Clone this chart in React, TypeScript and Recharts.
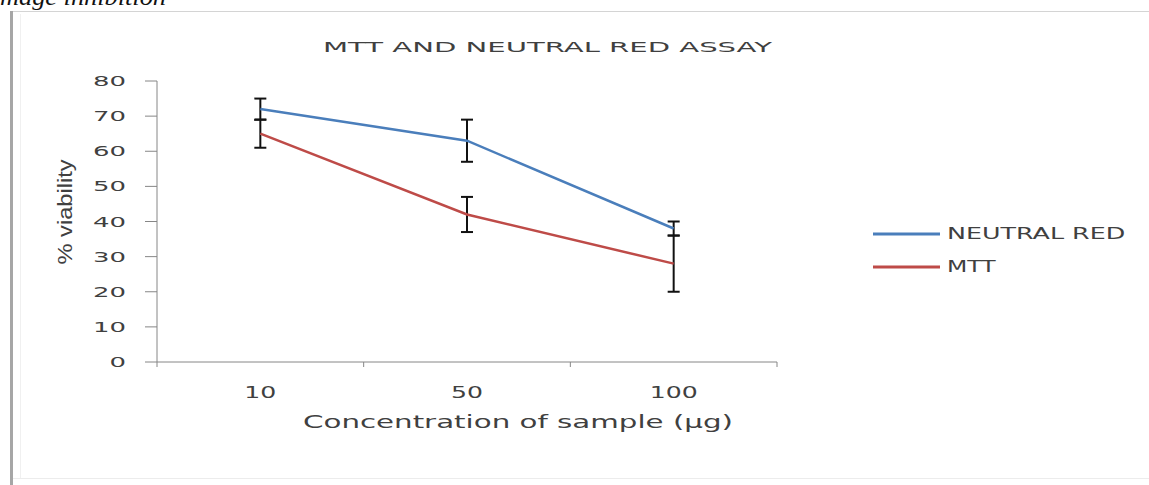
import { LineChart, Line, XAxis, YAxis, ErrorBar, Legend } from 'recharts'

// concentrations (µg) and % viability
const categories = ['10', '50', '100']
const seriesNames = ['NEUTRAL RED', 'MTT']
const neutralRed = [72, 63, 38]
const neutralRedErr = [3, 6, 2]
const mtt = [65, 42, 28]
const mttErr = [4, 5, 8]
const yTicks = [0, 10, 20, 30, 40, 50, 60, 70, 80]
const bandEdges = [0, 1, 2, 3]
const bandCenters = [0.5, 1.5, 2.5]

const NR_COLOR = '#4A7EBB'
const MTT_COLOR = '#BE4B48'
const TEXT = '#404040'
const AXIS = '#868686'
const WIDE = "'DejaVu Sans', Verdana, sans-serif"

const data = categories.map((c, i) => ({
  x: i + 0.5,
  label: c,
  nr: neutralRed[i],
  nrErr: neutralRedErr[i],
  mtt: mtt[i],
  mttErr: mttErr[i],
}))

// the source picture is stretched sideways, so glyphs get stretched too
const YTick = ({ x, y, payload }: any) => {
  const s = String(payload.value)
  return (
    <text x={x} y={y} dy={5} textAnchor="end" fontSize={14} fontFamily={WIDE} fill={TEXT}
      textLength={s.length * 16.5} lengthAdjust="spacingAndGlyphs">
      {s}
    </text>
  )
}

const XTick = ({ x, y, payload }: any) => {
  const s = categories[Math.floor(payload.value)] ?? ''
  return (
    <text x={x} y={y} dy={35} textAnchor="middle" fontSize={15} fontFamily={WIDE} fill={TEXT}
      textLength={s.length * 16} lengthAdjust="spacingAndGlyphs">
      {s}
    </text>
  )
}

const XTitle = ({ viewBox }: any) => (
  <text x={viewBox.x + viewBox.width / 2 + 51} y={viewBox.y + 65} textAnchor="middle"
    fontSize={17} fontFamily={WIDE} fill={TEXT} textLength={430} lengthAdjust="spacingAndGlyphs">
    Concentration of sample (µg)
  </text>
)

const YTitle = ({ viewBox }: any) => (
  <text transform={`translate(${viewBox.x + 9}, 212) rotate(-90)`} textAnchor="middle" dy={6}
    fontSize={20} fontFamily="'Liberation Sans Narrow', 'Liberation Sans', sans-serif" fill={TEXT}
    textLength={105} lengthAdjust="spacingAndGlyphs">
    % viability
  </text>
)

const LegendBox = ({ payload }: any) => {
  const items = seriesNames
    .map((n) => (payload || []).find((p: any) => p.value === n))
    .filter(Boolean)
  return (
    <svg width={270} height={70}>
      {items.map((p: any, i: number) => (
        <g key={p.value}>
          <line x1={3} x2={70} y1={14 + i * 33} y2={14 + i * 33} stroke={p.color} strokeWidth={3} />
          <text x={77} y={19 + i * 33} fontSize={15} fontFamily={WIDE} fill={TEXT}
            textLength={p.value.length * 16.2} lengthAdjust="spacingAndGlyphs">
            {p.value}
          </text>
        </g>
      ))}
    </svg>
  )
}

export default function App() {
  return (
    <div style={{ position: 'absolute', left: 0, top: 0, width: 1149, height: 485, background: '#fff', overflow: 'hidden' }}>
      {/* page scraps around the figure */}
      <svg width={1149} height={485} style={{ position: 'absolute', left: 0, top: 0 }}>
        <text x={0} y={5} fontSize={24} fontStyle="italic" fontFamily="'Liberation Serif', serif" fill="#111"
          textLength={166} lengthAdjust="spacingAndGlyphs">
          mage inhibition
        </text>
        <line x1={10} x2={1149} y1={11.5} y2={11.5} stroke="#d4d4d4" />
        <line x1={11.5} x2={11.5} y1={11} y2={485} stroke="#a6a6a6" strokeWidth={3} />
        <line x1={20.5} x2={20.5} y1={14} y2={478} stroke="#f0f0f0" />
        <line x1={13} x2={1149} y1={478.5} y2={478.5} stroke="#ececec" />
        <text x={323} y={52} fontSize={14} fontFamily={WIDE} fill={TEXT}
          textLength={449} lengthAdjust="spacingAndGlyphs">
          MTT AND NEUTRAL RED ASSAY
        </text>
      </svg>
      <div style={{ position: 'absolute', left: 0, top: 0 }}>
        <LineChart width={1149} height={485} data={data} margin={{ top: 81, right: 372, bottom: 43, left: 57 }}>
          <XAxis xAxisId="edges" type="number" dataKey="x" domain={[0, 3]} ticks={bandEdges} interval={0}
            height={1} tickSize={5} tickFormatter={() => ''} stroke={AXIS} />
          <XAxis xAxisId="labels" type="number" dataKey="x" domain={[0, 3]} ticks={bandCenters} interval={0}
            height={79} axisLine={false} tickLine={false} tickSize={0} tickMargin={0} tick={<XTick />}
            label={{ content: <XTitle /> }} />
          <YAxis domain={[0, 80]} ticks={yTicks} interval={0} width={100} tickSize={12} tickMargin={19}
            stroke={AXIS} tick={<YTick />} label={{ content: <YTitle /> }} />
          <Legend layout="vertical" align="center" verticalAlign="middle" content={<LegendBox />}
            wrapperStyle={{ left: 870, top: 220, width: 270, height: 70 }} />
          <Line xAxisId="edges" type="linear" dataKey="nr" name={seriesNames[0]} stroke={NR_COLOR} strokeWidth={2.5}
            dot={false} isAnimationActive={false}>
            <ErrorBar dataKey="nrErr" width={6} stroke="#111" strokeWidth={2} direction="y" />
          </Line>
          <Line xAxisId="edges" type="linear" dataKey="mtt" name={seriesNames[1]} stroke={MTT_COLOR} strokeWidth={2.5}
            dot={false} isAnimationActive={false}>
            <ErrorBar dataKey="mttErr" width={6} stroke="#111" strokeWidth={2} direction="y" />
          </Line>
        </LineChart>
      </div>
    </div>
  )
}
